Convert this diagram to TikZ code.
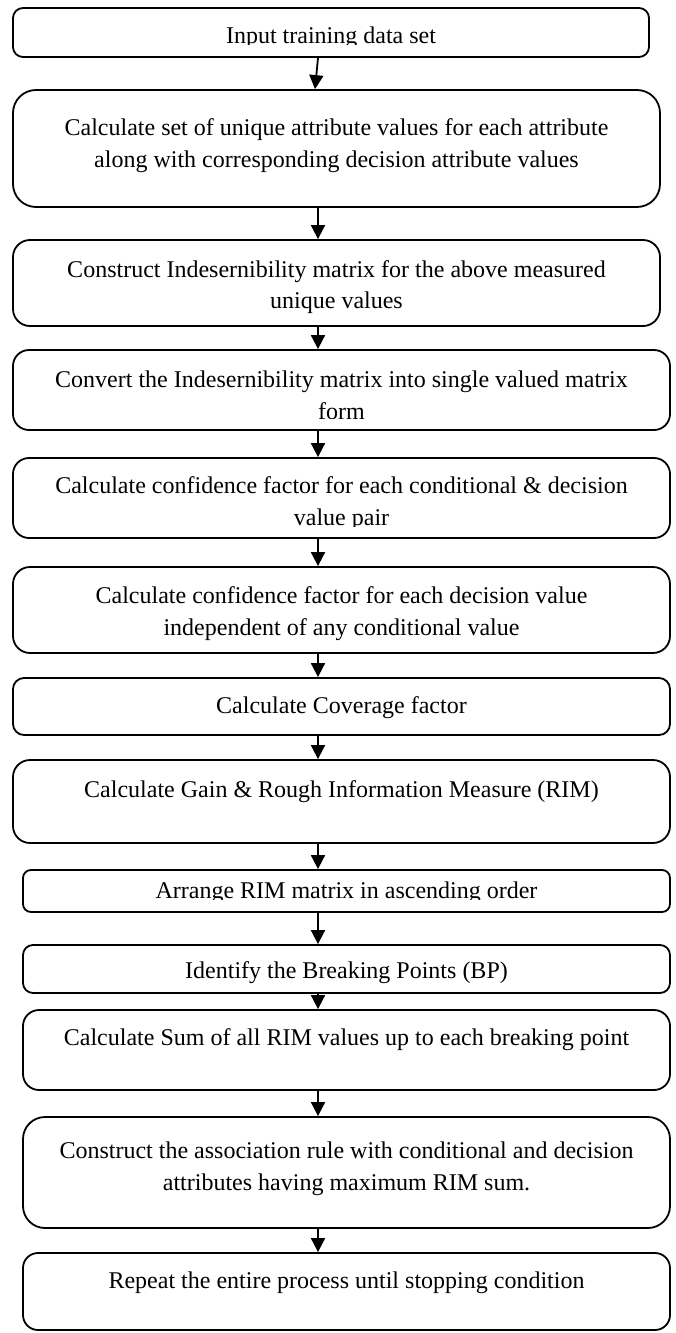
\documentclass[tikz,border=0pt]{standalone}
\usepackage{fontspec}
\setmainfont{Liberation Serif}
\usetikzlibrary{arrows.meta}
\begin{document}
\begin{tikzpicture}[x=1pt,y=-1pt,
  box/.style={draw=black, line width=1.8pt, rectangle, inner sep=0pt, fill=none},
  txt/.style={anchor=base, inner sep=0pt, font=\fontsize{24}{31}\selectfont},
  arr/.style={draw=black, line width=1.8pt, -{Triangle[length=14pt,width=14pt]}}]
\useasboundingbox (0,0) rectangle (676,1333);
\fill[white] (0,0) rectangle (676,1333);

% boxes
\node[box, minimum width=636pt, minimum height=49pt, rounded corners=10pt] (b1) at (331,32.5) {};
\node[box, minimum width=647pt, minimum height=117pt, rounded corners=23pt] (b2) at (336.5,148.5) {};
\node[box, minimum width=647pt, minimum height=86pt, rounded corners=17pt] (b3) at (336.5,283) {};
\node[box, minimum width=657pt, minimum height=80pt, rounded corners=16pt] (b4) at (341.5,390) {};
\node[box, minimum width=657pt, minimum height=80pt, rounded corners=16pt] (b5) at (341.5,498) {};
\node[box, minimum width=657pt, minimum height=86pt, rounded corners=17pt] (b6) at (341.5,610) {};
\node[box, minimum width=657pt, minimum height=57pt, rounded corners=11pt] (b7) at (341.5,706.5) {};
\node[box, minimum width=657pt, minimum height=83pt, rounded corners=17pt] (b8) at (341.5,801.5) {};
\node[box, minimum width=647pt, minimum height=42pt, rounded corners=8pt] (b9) at (346.5,891) {};
\node[box, minimum width=647pt, minimum height=48pt, rounded corners=10pt] (b10) at (346.5,969) {};
\node[box, minimum width=647pt, minimum height=80pt, rounded corners=16pt] (b11) at (346.5,1050) {};
\node[box, minimum width=647pt, minimum height=111pt, rounded corners=22pt] (b12) at (346.5,1172.5) {};
\node[box, minimum width=647pt, minimum height=77pt, rounded corners=15pt] (b13) at (346.5,1291.5) {};

% texts
\begin{scope}
\clip (13,8) rectangle (649,44);
\node[txt] (t1) at (331,43) {Input training data set};
\end{scope}
\node[txt] (t2a) at (336.5,135) {Calculate set of unique attribute values for each attribute};
\node[txt] (t2b) at (336.5,167) {along with corresponding decision attribute values};
\node[txt] (t3a) at (336.5,277) {Construct Indesernibility matrix for the above measured};
\node[txt] (t3b) at (336.5,308) {unique values};
\begin{scope}
\clip (13,350) rectangle (670,418);
\node[txt] (t4a) at (341.5,387) {Convert the Indesernibility matrix into single valued matrix};
\node[txt] (t4b) at (341.5,419) {form};
\end{scope}
\begin{scope}
\clip (13,458) rectangle (670,526);
\node[txt] (t5a) at (341.5,493) {Calculate confidence factor for each conditional \& decision};
\node[txt] (t5b) at (341.5,525) {value pair};
\end{scope}
\node[txt] (t6a) at (341.5,603) {Calculate confidence factor for each decision value};
\node[txt] (t6b) at (341.5,635) {independent of any conditional value};
\node[txt] (t7) at (341.5,713) {Calculate Coverage factor};
\node[txt] (t8) at (341.5,797) {Calculate Gain \& Rough Information Measure (RIM)};
\begin{scope}
\clip (23,870) rectangle (670,899);
\node[txt] (t9) at (346.5,898) {Arrange RIM matrix in ascending order};
\end{scope}
\node[txt] (t10) at (346.5,978) {Identify the Breaking Points (BP)};
\node[txt] (t11) at (346.5,1045) {Calculate Sum of all RIM values up to each breaking point};
\node[txt] (t12a) at (346.5,1158) {Construct the association rule with conditional and decision};
\node[txt] (t12b) at (346.5,1190) {attributes having maximum RIM sum.};
\node[txt] (t13) at (346.5,1288) {Repeat the entire process until stopping condition};

% arrows
\coordinate (ax) at (318,0);
\coordinate (ax1) at (315,0);
\draw[arr] (b1.south -| ax) -- (b2.north -| ax1);
\draw[arr] (b2.south -| ax) -- (b3.north -| ax);
\draw[arr] (b3.south -| ax) -- (b4.north -| ax);
\draw[arr] (b4.south -| ax) -- (b5.north -| ax);
\draw[arr] (b5.south -| ax) -- (b6.north -| ax);
\draw[arr] (b6.south -| ax) -- (b7.north -| ax);
\draw[arr] (b7.south -| ax) -- (b8.north -| ax);
\draw[arr] (b8.south -| ax) -- (b9.north -| ax);
\draw[arr] (b9.south -| ax) -- (b10.north -| ax);
\draw[arr] (b10.south -| ax) -- (b11.north -| ax);
\draw[arr] (b11.south -| ax) -- (b12.north -| ax);
\draw[arr] (b12.south -| ax) -- (b13.north -| ax);
\end{tikzpicture}
\end{document}
